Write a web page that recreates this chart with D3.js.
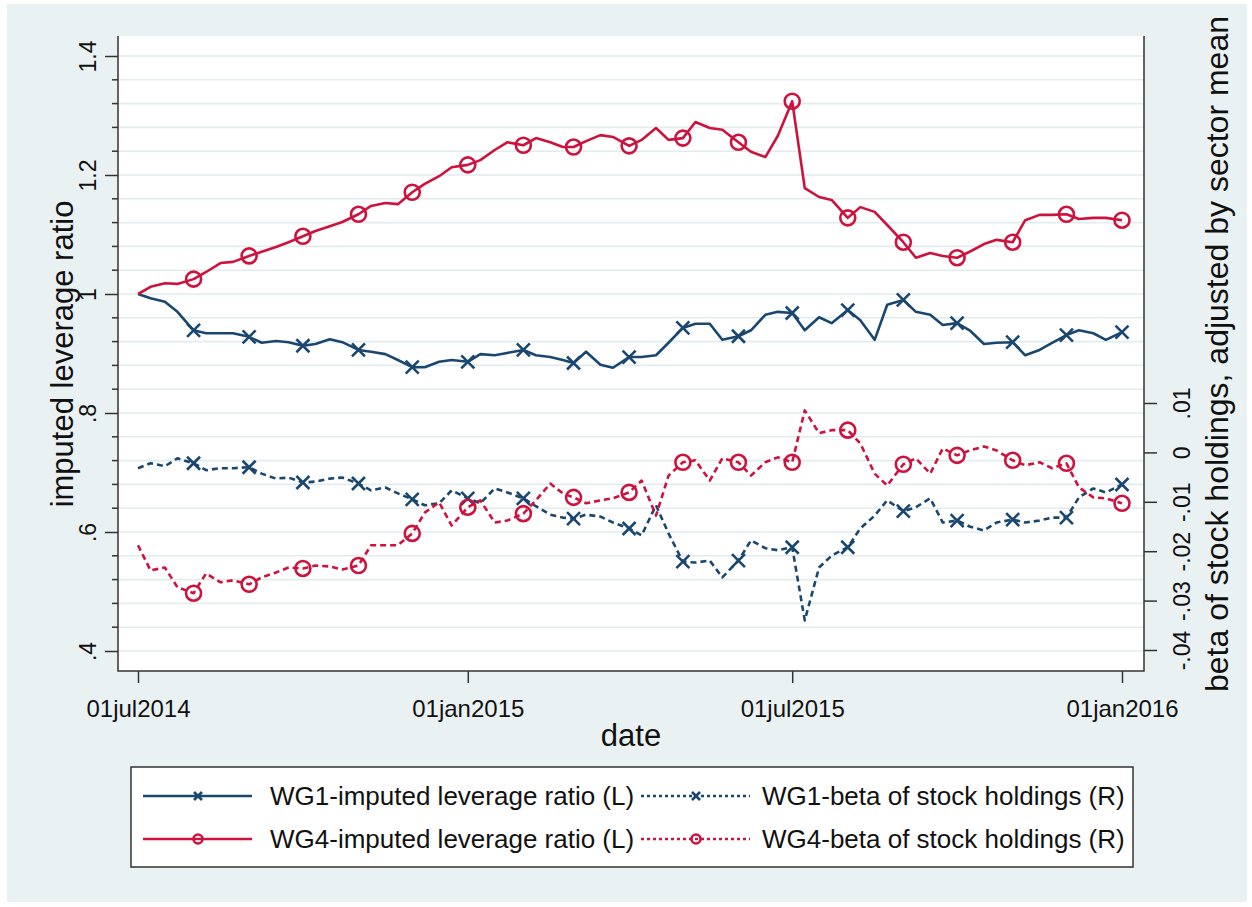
<!DOCTYPE html>
<html>
<head>
<meta charset="utf-8">
<script src="https://cdnjs.cloudflare.com/ajax/libs/d3/7.8.5/d3.min.js"></script>
<style>
  body { margin: 0; background: #ffffff; }
  text { font-family: "Liberation Sans", Arial, Helvetica, sans-serif; fill: #111; }
</style>
</head>
<body>
<div id="chart"></div>
<script>
var dates = [
    "2014-07-01", "2014-07-08", "2014-07-16", "2014-07-23", "2014-08-01", "2014-08-08", "2014-08-16", "2014-08-23",
    "2014-09-01", "2014-09-08", "2014-09-16", "2014-09-23", "2014-10-01", "2014-10-08", "2014-10-16", "2014-10-23",
    "2014-11-01", "2014-11-08", "2014-11-16", "2014-11-23", "2014-12-01", "2014-12-08", "2014-12-16", "2014-12-23",
    "2015-01-01", "2015-01-08", "2015-01-16", "2015-01-23", "2015-02-01", "2015-02-08", "2015-02-16", "2015-02-23",
    "2015-03-01", "2015-03-08", "2015-03-16", "2015-03-23", "2015-04-01", "2015-04-08", "2015-04-16", "2015-04-23",
    "2015-05-01", "2015-05-08", "2015-05-16", "2015-05-23", "2015-06-01", "2015-06-08", "2015-06-16", "2015-06-23",
    "2015-07-01", "2015-07-08", "2015-07-16", "2015-07-23", "2015-08-01", "2015-08-08", "2015-08-16", "2015-08-23",
    "2015-09-01", "2015-09-08", "2015-09-16", "2015-09-23", "2015-10-01", "2015-10-08", "2015-10-16", "2015-10-23",
    "2015-11-01", "2015-11-08", "2015-11-16", "2015-11-23", "2015-12-01", "2015-12-08", "2015-12-16", "2015-12-23",
    "2016-01-01"
];

// WG1 imputed leverage ratio (left axis)
var wg1Lev = [
    1.000, 0.993, 0.987, 0.970, 0.939, 0.934, 0.934, 0.934,
    0.928, 0.918, 0.921, 0.919, 0.913, 0.916, 0.924, 0.919,
    0.906, 0.903, 0.899, 0.889, 0.877, 0.877, 0.886, 0.889,
    0.886, 0.899, 0.897, 0.901, 0.906, 0.897, 0.894, 0.889,
    0.884, 0.903, 0.881, 0.876, 0.894, 0.894, 0.897, 0.918,
    0.943, 0.950, 0.950, 0.923, 0.929, 0.939, 0.965, 0.970,
    0.968, 0.939, 0.961, 0.951, 0.973, 0.956, 0.923, 0.982,
    0.990, 0.970, 0.965, 0.948, 0.951, 0.939, 0.916, 0.918,
    0.919, 0.897, 0.906, 0.918, 0.931, 0.939, 0.934, 0.923,
    0.936
];

// WG4 imputed leverage ratio (left axis)
var wg4Lev = [
    1.000, 1.012, 1.018, 1.017, 1.025, 1.037, 1.052, 1.054,
    1.064, 1.071, 1.079, 1.087, 1.097, 1.106, 1.114, 1.121,
    1.134, 1.148, 1.153, 1.151, 1.171, 1.185, 1.198, 1.213,
    1.217, 1.225, 1.242, 1.255, 1.250, 1.262, 1.255, 1.247,
    1.247, 1.257, 1.267, 1.264, 1.249, 1.259, 1.279, 1.259,
    1.262, 1.289, 1.279, 1.276, 1.255, 1.239, 1.230, 1.266,
    1.324, 1.178, 1.163, 1.158, 1.128, 1.146, 1.138, 1.116,
    1.087, 1.061, 1.069, 1.064, 1.061, 1.071, 1.084, 1.091,
    1.087, 1.124, 1.133, 1.133, 1.134, 1.126, 1.128, 1.128,
    1.124
];

// WG1 beta of stock holdings (right axis)
var wg1Beta = [
    -0.0032, -0.0022, -0.0028, -0.0012, -0.0022, -0.0036, -0.0032, -0.0032,
    -0.0030, -0.0043, -0.0053, -0.0051, -0.0061, -0.0059, -0.0053, -0.0051,
    -0.0063, -0.0077, -0.0071, -0.0083, -0.0095, -0.0107, -0.0103, -0.0077,
    -0.0093, -0.0103, -0.0073, -0.0081, -0.0093, -0.0109, -0.0126, -0.0132,
    -0.0134, -0.0126, -0.0130, -0.0142, -0.0154, -0.0168, -0.0107, -0.0164,
    -0.0221, -0.0223, -0.0219, -0.0253, -0.0219, -0.0178, -0.0194, -0.0198,
    -0.0192, -0.0340, -0.0233, -0.0209, -0.0192, -0.0154, -0.0128, -0.0097,
    -0.0119, -0.0111, -0.0093, -0.0142, -0.0138, -0.0150, -0.0158, -0.0142,
    -0.0136, -0.0142, -0.0138, -0.0132, -0.0132, -0.0091, -0.0073, -0.0081,
    -0.0065
];

// WG4 beta of stock holdings (right axis)
var wg4Beta = [
    -0.0188, -0.0239, -0.0233, -0.0273, -0.0285, -0.0245, -0.0263, -0.0259,
    -0.0267, -0.0253, -0.0243, -0.0233, -0.0235, -0.0229, -0.0231, -0.0237,
    -0.0229, -0.0188, -0.0188, -0.0188, -0.0164, -0.0122, -0.0101, -0.0148,
    -0.0111, -0.0097, -0.0142, -0.0138, -0.0124, -0.0097, -0.0063, -0.0083,
    -0.0091, -0.0103, -0.0097, -0.0093, -0.0081, -0.0057, -0.0128, -0.0047,
    -0.0020, -0.0016, -0.0057, -0.0012, -0.0020, -0.0047, -0.0020, -0.0010,
    -0.0020, 0.0085, 0.0039, 0.0045, 0.0045, 0.0018, -0.0043, -0.0067,
    -0.0024, -0.0012, -0.0043, 0.0008, -0.0006, 0.0004, 0.0012, 0.0004,
    -0.0016, -0.0026, -0.0020, -0.0032, -0.0022, -0.0071, -0.0091, -0.0093,
    -0.0103
];

var leftTicks = [0.4, 0.6, 0.8, 1, 1.2, 1.4];
var leftTickLabels = [".4", ".6", ".8", "1", "1.2", "1.4"];
var rightTicks = [-0.04, -0.03, -0.02, -0.01, 0, 0.01];
var rightTickLabels = ["-.04", "-.03", "-.02", "-.01", "0", ".01"];
var xTicks = ["2014-07-01", "2015-01-01", "2015-07-01", "2016-01-01"];
var xTickLabels = ["01jul2014", "01jan2015", "01jul2015", "01jan2016"];

var seriesNames = ["WG1-imputed leverage ratio (L)", "WG1-beta of stock holdings (R)",
    "WG4-imputed leverage ratio (L)", "WG4-beta of stock holdings (R)"];

var navy = "#1a476f";
var red = "#ce123e";
var bgColor = "#eaf1f3";
var gridColor = "#e2ebee";

var width_svg = 1252, height_svg = 907;
var plot = {left: 118, right: 1144, top: 36, bottom: 671};

var svg = d3.select("#chart")
    .append("svg")
    .attr("width", width_svg)
    .attr("height", height_svg);

svg.append("rect")
    .attr("x", 7).attr("y", 4)
    .attr("width", 1240).attr("height", 898)
    .attr("fill", bgColor);

svg.append("rect")
    .attr("x", plot.left).attr("y", plot.top)
    .attr("width", plot.right - plot.left).attr("height", plot.bottom - plot.top)
    .attr("fill", "#ffffff");

var parse = d3.utcParse("%Y-%m-%d");

var x = d3.scaleUtc()
    .domain([parse("2014-07-01"), parse("2016-01-01")])
    .range([138, 1122]);

var yL = d3.scaleLinear().domain([0.4, 1.4]).range([651, 56]);
var yR = d3.scaleLinear().domain([-0.04, 0.01]).range([650, 403]);

// grid lines on every minor tick of the left axis
var minorTicks = d3.range(0, 26).map(i => +(0.4 + i * 0.04).toFixed(2));

svg.append("g")
    .selectAll("line")
    .data(minorTicks)
    .enter()
    .append("line")
    .attr("x1", plot.left).attr("x2", plot.right)
    .attr("y1", d => yL(d)).attr("y2", d => yL(d))
    .attr("stroke", gridColor)
    .attr("stroke-width", 1.6);

// left axis
var leftAxis = svg.append("g")
    .attr("transform", `translate(${plot.left},0)`)
    .call(d3.axisLeft(yL).tickValues(leftTicks).tickSize(13).tickSizeOuter(0)
        .tickFormat((d, i) => leftTickLabels[i]));
leftAxis.select(".domain").remove();
leftAxis.selectAll("line").attr("stroke", "#333").attr("stroke-width", 1.5);
leftAxis.selectAll("text")
    .attr("transform", "rotate(-90)")
    .attr("x", 0).attr("y", -22).attr("dy", null)
    .attr("text-anchor", "middle")
    .style("font-size", "23px")
    .style("font-family", "'Liberation Sans', Arial, sans-serif")
    .attr("fill", "#111");

svg.append("g")
    .selectAll("line")
    .data(minorTicks.filter(d => leftTicks.indexOf(d) < 0))
    .enter()
    .append("line")
    .attr("x1", plot.left - 6).attr("x2", plot.left)
    .attr("y1", d => yL(d)).attr("y2", d => yL(d))
    .attr("stroke", "#333").attr("stroke-width", 1.5);

// right axis
var rightAxis = svg.append("g")
    .attr("transform", `translate(${plot.right},0)`)
    .call(d3.axisRight(yR).tickValues(rightTicks).tickSize(13).tickSizeOuter(0)
        .tickFormat((d, i) => rightTickLabels[i]));
rightAxis.select(".domain").remove();
rightAxis.selectAll("line").attr("stroke", "#333").attr("stroke-width", 1.5);
rightAxis.selectAll("text")
    .attr("transform", "rotate(-90)")
    .attr("x", 0).attr("y", 46).attr("dy", null)
    .attr("text-anchor", "middle")
    .style("font-size", "23px")
    .style("font-family", "'Liberation Sans', Arial, sans-serif")
    .attr("fill", "#111");

// bottom axis
var bottomAxis = svg.append("g")
    .attr("transform", `translate(0,${plot.bottom})`)
    .call(d3.axisBottom(x).tickValues(xTicks.map(parse)).tickSize(12).tickSizeOuter(0)
        .tickFormat((d, i) => xTickLabels[i]));
bottomAxis.select(".domain").remove();
bottomAxis.selectAll("line").attr("stroke", "#333").attr("stroke-width", 1.5);
bottomAxis.selectAll("text")
    .attr("y", 46).attr("dy", null)
    .style("font-size", "24px")
    .style("font-family", "'Liberation Sans', Arial, sans-serif")
    .attr("fill", "#111");

// axis lines (left, right, bottom)
svg.append("path")
    .attr("d", `M${plot.left},${plot.top}V${plot.bottom}H${plot.right}V${plot.top}`)
    .attr("fill", "none")
    .attr("stroke", "#333")
    .attr("stroke-width", 1.5);

// axis titles
svg.append("text")
    .attr("x", 631).attr("y", 746)
    .attr("text-anchor", "middle")
    .style("font-size", "31px")
    .text("date");

svg.append("text")
    .attr("transform", "translate(73,354) rotate(-90)")
    .attr("text-anchor", "middle")
    .style("font-size", "31px")
    .text("imputed leverage ratio");

svg.append("text")
    .attr("transform", "translate(1228,354) rotate(-90)")
    .attr("text-anchor", "middle")
    .style("font-size", "32px")
    .text("beta of stock holdings, adjusted by sector mean");

// series
var series = [
    {values: wg1Lev, y: yL, color: navy, dash: null, marker: "x"},
    {values: wg1Beta, y: yR, color: navy, dash: "6,4", marker: "x"},
    {values: wg4Lev, y: yL, color: red, dash: null, marker: "o"},
    {values: wg4Beta, y: yR, color: red, dash: "6,4", marker: "o"}
];

var parsedDates = dates.map(parse);

function drawMarker(g, type, cx, cy, size, color) {
    if (type === "x") {
        g.append("path")
            .attr("d", `M${cx - size},${cy - size}L${cx + size},${cy + size}M${cx - size},${cy + size}L${cx + size},${cy - size}`)
            .attr("stroke", color).attr("stroke-width", 2.6).attr("fill", "none");
    } else {
        g.append("circle")
            .attr("cx", cx).attr("cy", cy).attr("r", size)
            .attr("stroke", color).attr("stroke-width", 2.6).attr("fill", "none");
    }
}

series.forEach(function (s) {
    var pts = parsedDates.map((d, i) => ({date: d, value: s.values[i]}));
    var line = d3.line()
        .x(d => x(d.date))
        .y(d => s.y(d.value));

    svg.append("path")
        .datum(pts)
        .attr("d", line)
        .attr("fill", "none")
        .attr("stroke", s.color)
        .attr("stroke-width", 2.6)
        .attr("stroke-linejoin", "round")
        .attr("stroke-dasharray", s.dash);

    // markers on the first of each month
    var mg = svg.append("g");
    pts.filter((d, i) => i > 0 && d.date.getUTCDate() === 1).forEach(function (d) {
        drawMarker(mg, s.marker, x(d.date), s.y(d.value), s.marker === "x" ? 6.5 : 7.5, s.color);
    });
});

// legend
var legend = svg.append("g").attr("class", "legend");
legend.append("rect")
    .attr("x", 131).attr("y", 767)
    .attr("width", 1002).attr("height", 100)
    .attr("fill", "#ffffff")
    .attr("stroke", "#333")
    .attr("stroke-width", 1.5);

var legendCols = [143, 641];
var legendRows = [796, 839];

series.forEach(function (s, i) {
    var col = i % 2, row = Math.floor(i / 2);
    var x0 = legendCols[col], yy = legendRows[row];
    legend.append("line")
        .attr("x1", x0).attr("x2", x0 + 109)
        .attr("y1", yy).attr("y2", yy)
        .attr("stroke", s.color)
        .attr("stroke-width", 2.4)
        .attr("stroke-dasharray", s.dash ? "3,3" : null);
    drawMarker(legend, s.marker, x0 + 55, yy, s.marker === "x" ? 4 : 4.5, s.color);
    legend.append("text")
        .attr("x", x0 + (col === 0 ? 127 : 121)).attr("y", yy + 9)
        .style("font-size", "26px")
        .text(seriesNames[i]);
});
</script>
</body>
</html>
